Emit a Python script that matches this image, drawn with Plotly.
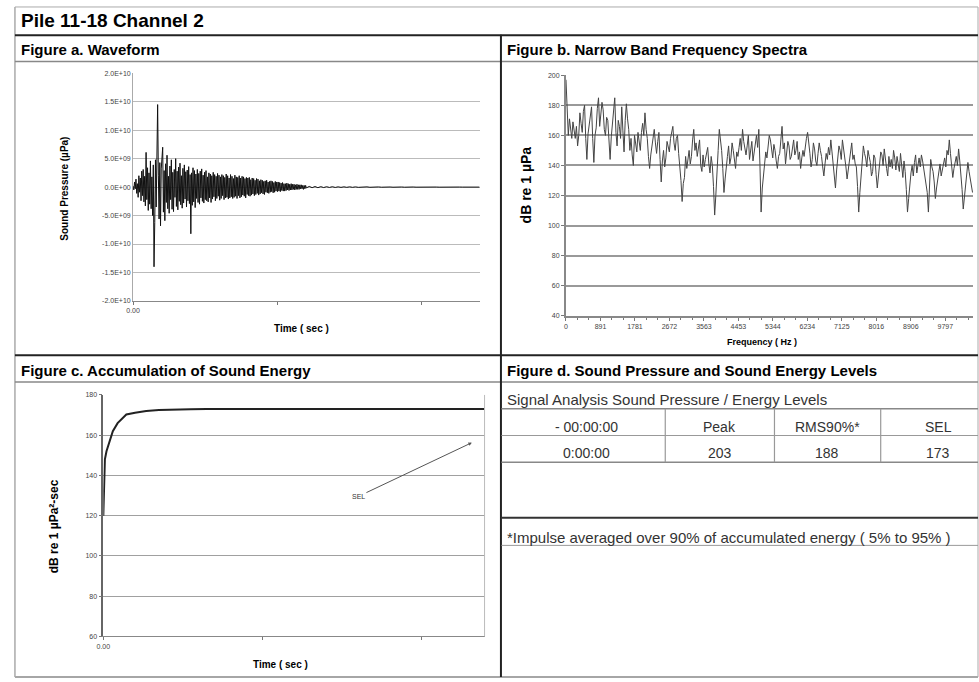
import plotly.graph_objects as go

# ---------------- data ----------------
chart_title = "Pile 11-18 Channel 2"
panel_titles = ["Figure a. Waveform",
                "Figure b. Narrow Band Frequency Spectra",
                "Figure c. Accumulation of Sound Energy",
                "Figure d. Sound Pressure and Sound Energy Levels"]

# Figure a: sound pressure waveform, values in units of 1e9 uPa
# active part: one sample every 0.5 ms from 0 s
wave_active_dt = 0.0005
wave_active_e9 = [
    0.2, -0.5, 0.9, -0.3, 1.4, -1.1, 0.6, -1.8, 2.0, -0.9,
    1.6, -2.4, 2.8, -1.5, 3.1, -2.6, 1.9, -3.3, 6.1, -2.2,
    3.4, -4.1, 2.5, -3.0, 4.6, -3.8, 1.8, -5.0, 3.9, -14.0,
    -6.2, 4.8, -3.5, 8.9, 14.5, 2.1, -5.6, 4.3, -6.8, 3.2,
    5.2, 7.0, -4.4, 2.9, -5.9, 4.1, -2.7, 5.6, -3.8, 1.9,
    -4.6, 3.7, -2.2, 4.8, -3.9, 2.6, -4.3, 3.1, -1.8, 5.0,
    -3.4, 2.8, -4.0, 3.5, -2.5, 4.2, -3.1, 2.0, -3.7, 3.3,
    -2.8, 3.9, -2.1, 2.7, -3.5, 3.0, -2.4, 3.6, -2.9, 2.2,
    -8.2, 2.5, -3.2, 3.4, -2.6, 2.9, -3.6, 2.3, -2.0, 3.1,
    -2.7, 2.4, -3.0, 2.8, -1.9, 3.2, -2.5, 2.1, -2.8, 2.6,
    -2.2, 2.9, -2.4, 1.8, -2.6, 2.5, -1.9, 2.3, -2.7, 2.0,
    -2.1, 2.6, -1.7, 2.2, -2.4, 1.9, -2.0, 2.4, -1.6, 2.1,
    -2.3, 1.8, -2.0, 2.2, -1.5, 2.0, -2.2, 1.7, -1.9, 2.3,
    -1.8, 2.0, -2.1, 1.6, -1.9, 2.2, -1.7, 1.9, -2.0, 1.5,
    -1.8, 2.1, -1.6, 1.8, -2.0, 1.7, -1.5, 2.0, -1.9, 1.6,
    -1.7, 1.9, -1.4, 1.8, -1.6, 1.5, -1.9, 1.7, -1.3, 1.6,
    -1.5, 1.7, -1.6, 1.3, -1.4, 1.6, -1.2, 1.5, -1.5, 1.2,
    -1.3, 1.5, -1.1, 1.4, -1.4, 1.1, -1.2, 1.3, -1.0, 1.2,
    -1.2, 1.0, -1.3, 1.1, -0.9, 1.2, -1.0, 0.9, -1.1, 1.0,
    -0.9, 1.1, -0.8, 1.0, -1.0, 0.8, -0.9, 1.0, -0.7, 0.9,
    -0.8, 0.9, -0.7, 0.8, -0.8, 0.7, -0.6, 0.8, -0.7, 0.6,
    -0.7, 0.6, -0.6, 0.7, -0.5, 0.6, -0.6, 0.5, -0.5, 0.6,
    -0.5, 0.5, -0.4, 0.5, -0.5, 0.4, -0.4, 0.5, -0.4, 0.4,
    -0.4, 0.4, -0.3, 0.4, -0.3, 0.3, -0.4, 0.3, -0.3, 0.3,
]
# decaying tail: one sample every 2 ms from 0.12 s
wave_tail_start = 0.12
wave_tail_dt = 0.002
wave_tail_e9 = [
    -0.15, 0.12, -0.1, 0.1, -0.1, 0.08, -0.08, 0.07, -0.06, 0.07,
    -0.06, 0.05, -0.05, 0.05, -0.04, 0.05, -0.04, 0.04, -0.04, 0.03,
    -0.03, 0.04, -0.03, 0.03, -0.03, 0.03, -0.02, 0.03, -0.02, 0.02,
    -0.02, 0.02, -0.02, 0.02, -0.02, 0.02, -0.01, 0.02, -0.01, 0.01,
    -0.01, 0.01, -0.01, 0.01, -0.01, 0.01, -0.01, 0.01, -0.01, 0.01,
    -0.01, 0.01, 0.0, 0.01, 0.0, 0.01, 0.0, 0.0, 0.0, 0.0, 0.0,
]
wave_yticks = [2.0e10, 1.5e10, 1.0e10, 5.0e9, 0.0, -5.0e9, -1.0e10, -1.5e10, -2.0e10]
wave_ylabels = ["2.0E+10", "1.5E+10", "1.0E+10", "5.0E+09", "0.0E+00",
                "-5.0E+09", "-1.0E+10", "-1.5E+10", "-2.0E+10"]
time_ticks = [0.0, 0.1, 0.2]
time_labels = ["0.00", "", ""]

# Figure b: narrow band spectrum, one value per 30 Hz bin (dB re 1 uPa)
spec_bin_hz = 30
spec_db = [
    197, 172, 160, 171, 166, 158, 169, 163, 158, 166, 153, 160, 175, 168, 162, 176, 180, 158, 144, 161,
    168, 174, 179, 158, 142, 160, 165, 178, 185, 166, 173, 182, 177, 164, 160, 172, 170, 152, 144, 159,
    168, 176, 185, 162, 153, 170, 166, 158, 179, 163, 149, 170, 181, 171, 164, 150, 158, 147, 140, 160,
    155, 149, 162, 157, 150, 162, 168, 160, 175, 164, 158, 146, 138, 147, 152, 159, 164, 155, 148, 156,
    162, 144, 129, 143, 150, 139, 145, 156, 153, 149, 158, 163, 166, 155, 150, 158, 160, 148, 141, 130,
    116, 128, 132, 146, 138, 144, 150, 141, 146, 157, 164, 150, 155, 146, 151, 157, 140, 136, 147, 139,
    144, 149, 152, 141, 135, 146, 140, 126, 107, 120, 132, 150, 164, 157, 150, 138, 122, 131, 137, 146,
    153, 141, 145, 155, 150, 144, 138, 149, 146, 152, 158, 150, 164, 156, 150, 147, 153, 160, 144, 150,
    156, 143, 149, 155, 160, 152, 164, 140, 109, 125, 132, 141, 149, 145, 152, 160, 157, 149, 145, 154,
    150, 143, 138, 146, 148, 157, 166, 151, 155, 141, 147, 156, 153, 144, 146, 152, 157, 147, 150, 156,
    144, 149, 138, 145, 150, 146, 154, 158, 162, 152, 148, 139, 144, 155, 151, 143, 140, 148, 155, 150,
    146, 139, 133, 141, 148, 144, 152, 147, 157, 149, 140, 132, 125, 137, 145, 153, 150, 144, 157, 151,
    148, 139, 131, 138, 143, 150, 155, 144, 147, 141, 139, 126, 109, 122, 135, 146, 153, 148, 145, 139,
    150, 146, 142, 133, 136, 147, 145, 134, 125, 133, 140, 149, 147, 140, 151, 143, 138, 133, 146, 139,
    144, 138, 150, 145, 137, 146, 140, 136, 148, 141, 132, 143, 136, 124, 109, 118, 128, 135, 140, 133,
    142, 147, 135, 140, 145, 139, 147, 143, 138, 133, 130, 122, 109, 127, 144, 139, 136, 129, 118, 125,
    130, 137, 141, 133, 138, 143, 145, 139, 150, 147, 157, 148, 140, 132, 138, 143, 146, 140, 151, 143,
    135, 124, 111, 120, 128, 137, 142, 136, 132, 127, 122,
]
freq_ticks = [0, 891, 1781, 2672, 3563, 4453, 5344, 6234, 7125, 8016, 8906, 9797]
freq_labels = ["0", "891", "1781", "2672", "3563", "4453", "5344", "6234",
               "7125", "8016", "8906", "9797"]

# Figure c: accumulated sound energy (dB re 1 uPa^2-sec)
energy_time = [0, 0.0005, 0.001, 0.002, 0.004, 0.006, 0.009, 0.012, 0.0145, 0.02,
               0.027, 0.035, 0.045, 0.055, 0.065, 0.08, 0.1, 0.13, 0.16, 0.2, 0.24]
energy_db = [120, 140, 148, 152, 157, 162, 166, 168.5, 170.3, 171.2,
             172.0, 172.5, 172.8, 172.9, 173.0, 173.0, 173.0, 173.0, 173.0, 173.0, 173.0]
sel_label = "SEL"
sel_arrow_head = (0.232, 156.3)
sel_text_pos = (0.1606, 129.6)

# Figure d: table
table_caption = "Signal Analysis Sound Pressure / Energy Levels"
table_header = ["- 00:00:00", "Peak", "RMS90%*", "SEL"]
table_row = ["0:00:00", "203", "188", "173"]
footnote = "*Impulse averaged over 90% of accumulated energy ( 5% to 95% )"

# ---------------- layout helpers ----------------
W, H = 979, 682
FONT = "Liberation Sans, Arial, Helvetica, sans-serif"


def X(px):
    return px / W


def Y(py):
    return 1 - py / H


wave_t = [i * wave_active_dt for i in range(len(wave_active_e9))] + \
         [wave_tail_start + i * wave_tail_dt for i in range(len(wave_tail_e9))]
wave_p = [v * 1e9 for v in wave_active_e9 + wave_tail_e9]
spec_f = [i * spec_bin_hz for i in range(len(spec_db))]

fig = go.Figure()
fig.add_trace(go.Scatter(x=wave_t, y=wave_p, mode="lines",
                         line=dict(color="#111111", width=1), xaxis="x", yaxis="y",
                         hoverinfo="skip"))
fig.add_trace(go.Scatter(x=spec_f, y=spec_db, mode="lines",
                         line=dict(color="#444444", width=1), xaxis="x2", yaxis="y2",
                         hoverinfo="skip"))
fig.add_trace(go.Scatter(x=energy_time, y=energy_db, mode="lines",
                         line=dict(color="#222222", width=2), xaxis="x3", yaxis="y3",
                         hoverinfo="skip"))

tickfont = dict(family=FONT, size=7, color="#444444")

fig.update_layout(
    width=W, height=H, margin=dict(l=0, r=0, t=0, b=0),
    paper_bgcolor="white", plot_bgcolor="white", showlegend=False,
    font=dict(family=FONT, color="black"),
    xaxis=dict(domain=[X(127), X(476)], anchor="y", range=[0, 0.24],
               tickvals=time_ticks, ticktext=time_labels, ticks="outside",
               ticklen=3, tickcolor="#777", showline=True, linecolor="#888",
               showgrid=False, zeroline=False, tickfont=tickfont, fixedrange=True),
    yaxis=dict(domain=[Y(300), Y(70)], anchor="x", range=[-2e10, 2e10],
               tickvals=wave_yticks, ticktext=wave_ylabels, showgrid=True,
               gridcolor="#bbbbbb", gridwidth=1, zeroline=False, showline=True,
               linecolor="#aaaaaa", tickfont=tickfont, ticks="", fixedrange=True),
    xaxis2=dict(domain=[X(563), X(973)], anchor="y2", range=[0, 10513],
                tickvals=freq_ticks, ticktext=freq_labels, ticks="outside",
                ticklen=3, tickcolor="#777", showline=True, linecolor="#888",
                linewidth=2, showgrid=False, zeroline=False,
                tickfont=dict(family=FONT, size=7, color="#444"),
                minor=dict(ticks="outside", ticklen=2, tick0=0, dtick=296.9,
                           tickcolor="#777"),
                fixedrange=True),
    yaxis2=dict(domain=[Y(315), Y(72)], anchor="x2", range=[40, 200], dtick=20,
                showgrid=True, gridcolor="#999999", gridwidth=1.5, zeroline=False,
                showline=True, linecolor="#888", linewidth=2, ticks="outside",
                ticklen=3, tickcolor="#777", tickfont=tickfont, fixedrange=True),
    xaxis3=dict(domain=[X(97), X(481)], anchor="y3", range=[0, 0.24],
                tickvals=time_ticks, ticktext=time_labels, ticks="outside",
                ticklen=3, tickcolor="#777", showline=True, linecolor="#888",
                showgrid=False, zeroline=False, tickfont=tickfont, fixedrange=True),
    yaxis3=dict(domain=[Y(639), Y(395)], anchor="x3", range=[60, 180], dtick=20,
                showgrid=True, gridcolor="#a0a0a0", gridwidth=1, zeroline=False,
                showline=True, linecolor="#666", linewidth=1.5, ticks="outside",
                ticklen=3, tickcolor="#777", tickfont=tickfont, fixedrange=True),
)

shapes = []


def hline(y, x0, x1, color="#999", width=1):
    shapes.append(dict(type="line", xref="paper", yref="paper", x0=X(x0), x1=X(x1),
                       y0=Y(y), y1=Y(y), line=dict(color=color, width=width)))


def vline(x, y0, y1, color="#999", width=1):
    shapes.append(dict(type="line", xref="paper", yref="paper", x0=X(x), x1=X(x),
                       y0=Y(y0), y1=Y(y1), line=dict(color=color, width=width)))


# outer frame
hline(3, 8, 978, "#aaaaaa", 1)
hline(680, 8, 978, "#888888", 1.5)
vline(8, 3, 680, "#aaaaaa", 1.5)
vline(978, 3, 680, "#aaaaaa", 1)
# main dividers
hline(31.5, 8, 978, "#222222", 2)
hline(58, 8, 978, "#888888", 1.5)
hline(355, 8, 978, "#222222", 2)
hline(382, 8, 978, "#888888", 1.5)
vline(497.5, 31, 680, "#222222", 2)
# panel c right border
vline(481, 395, 639, "#bbbbbb", 1)
# table in panel d
hline(409, 498, 978, "#888888", 1.5)
hline(436, 498, 978, "#999999", 1.2)
hline(463, 498, 978, "#888888", 1.5)
hline(519, 498, 978, "#333333", 2)
hline(547, 498, 978, "#999999", 1)
for cx in [663, 773, 880]:
    vline(cx, 409, 463, "#999999", 1.2)

annotations = []


def text(x, y, s, size, bold=False, anchor="left", color="black", angle=0):
    annotations.append(dict(xref="paper", yref="paper", x=X(x), y=Y(y),
                            text=("<b>%s</b>" % s) if bold else s, showarrow=False,
                            xanchor=anchor, yanchor="middle", textangle=angle,
                            font=dict(family=FONT, size=size, color=color)))


text(12, 17, chart_title, 19, bold=True)
text(12, 46, panel_titles[0], 15, bold=True)
text(502, 46, panel_titles[1], 15, bold=True)
text(12, 370, panel_titles[2], 15, bold=True)
text(502, 370, panel_titles[3], 15, bold=True)

# axis titles
text(297, 328, "Time ( sec )", 10, bold=True, anchor="center")
text(760, 342, "Frequency ( Hz )", 9, bold=True, anchor="center")
text(275, 667, "Time ( sec )", 10, bold=True, anchor="center")
text(57, 187, "Sound Pressure (µPa)", 10, bold=True, anchor="center", angle=-90)
text(523, 183, "dB re 1 µPa", 14, bold=True, anchor="center", angle=-90)
text(47, 528, "dB re 1 µPa²-sec", 12, bold=True, anchor="center", angle=-90)

# table texts
text(502, 400, table_caption, 15, color="#333333")
col_centers = [584, 718, 826, 938]
for cx, s in zip(col_centers, table_header):
    text(cx, 427, s, 14, anchor="center", color="#333333")
for cx, s in zip(col_centers, table_row):
    text(cx, 454, s, 14, anchor="center", color="#333333")
text(502, 539, footnote, 15, color="#333333")

# SEL arrow in panel c
annotations.append(dict(xref="x3", yref="y3", x=sel_arrow_head[0], y=sel_arrow_head[1],
                        axref="x3", ayref="y3", ax=sel_text_pos[0], ay=sel_text_pos[1],
                        text=sel_label, showarrow=True, arrowhead=2, arrowsize=0.7,
                        arrowwidth=1, arrowcolor="#555555",
                        font=dict(family=FONT, size=7, color="#333")))

fig.update_layout(shapes=shapes, annotations=annotations)
fig.write_html("out.html")
